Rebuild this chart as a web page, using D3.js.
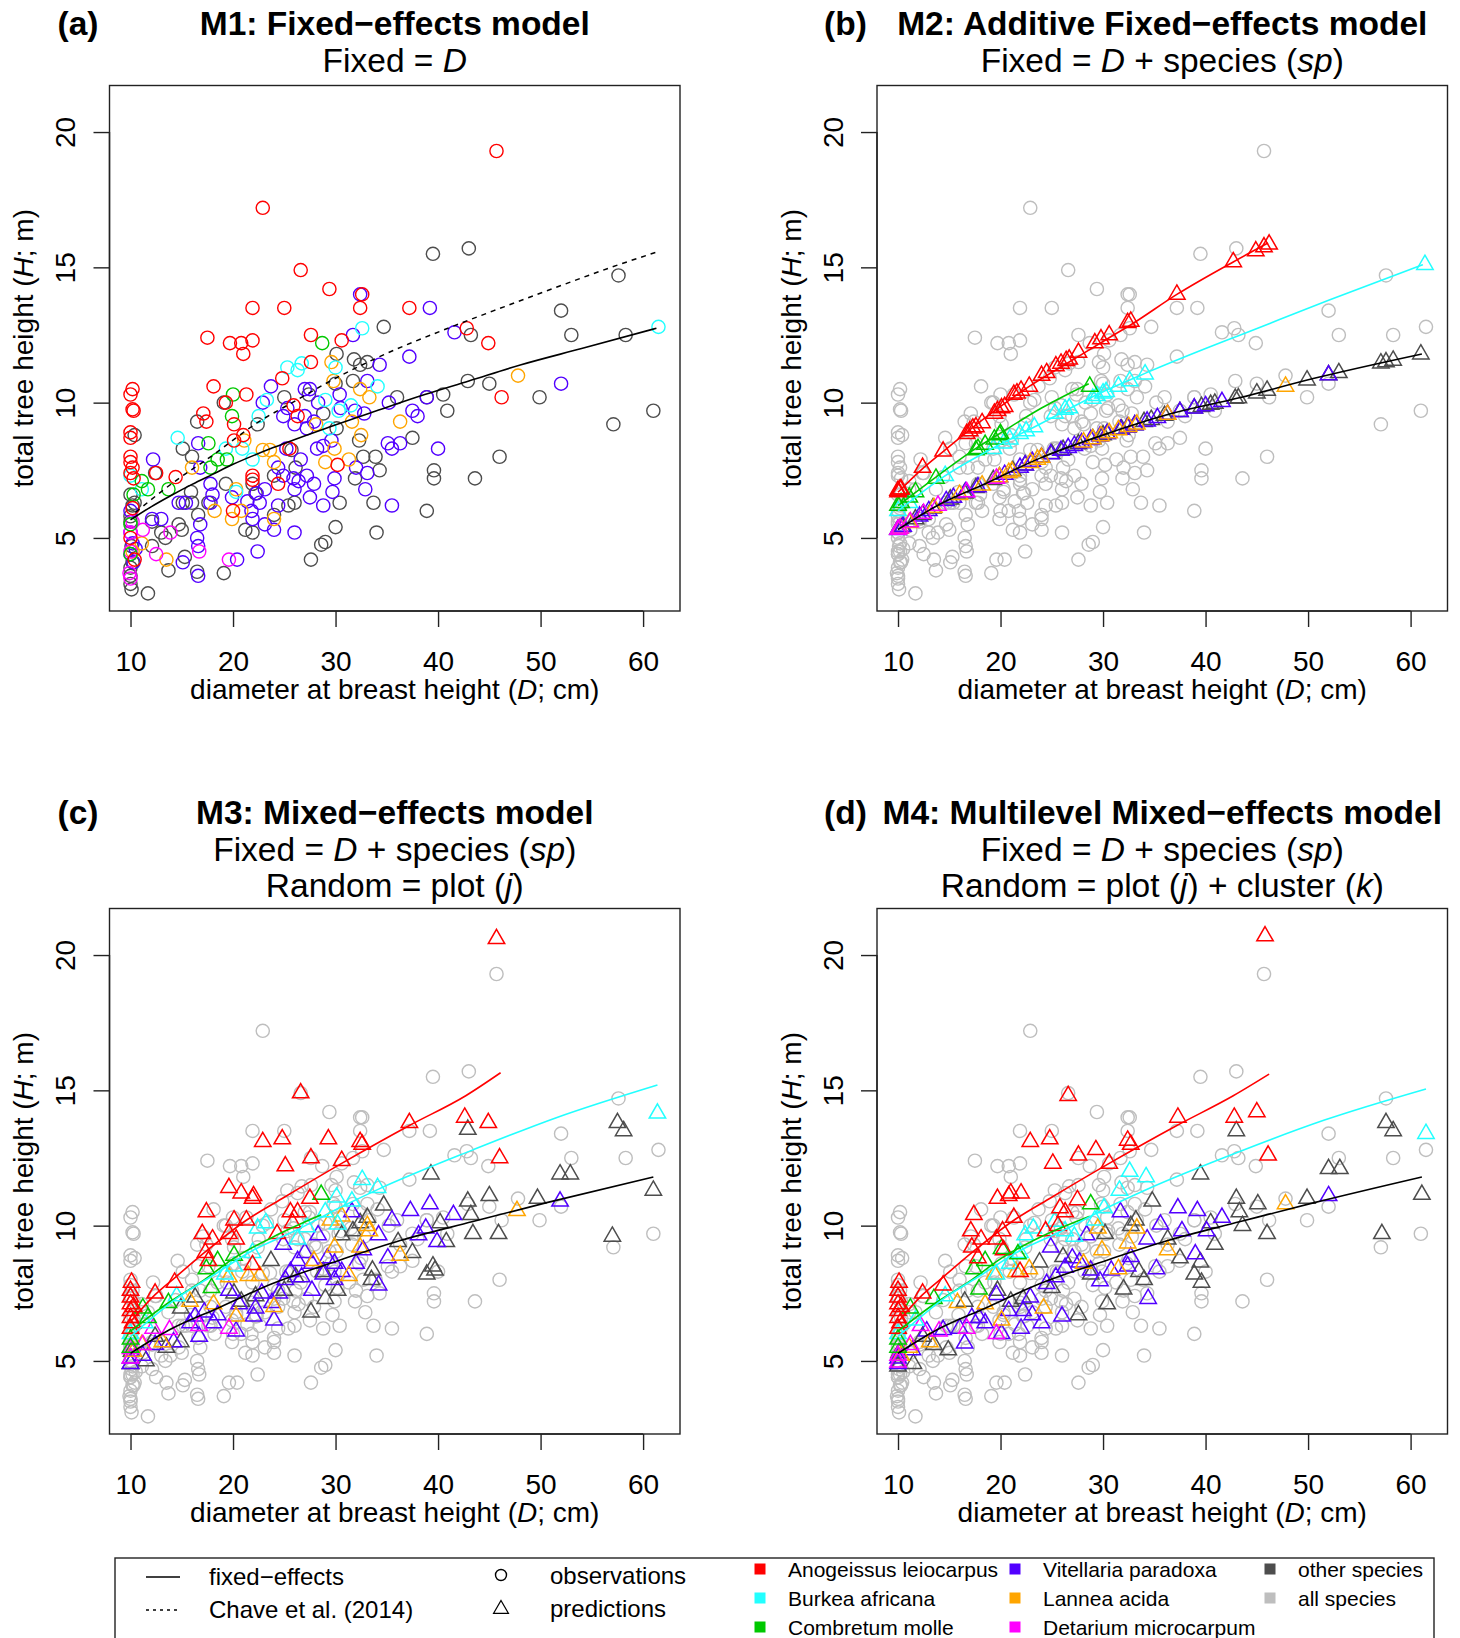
<!DOCTYPE html>
<html>
<head>
<meta charset="utf-8">
<script src="https://cdn.jsdelivr.net/npm/d3@7"></script>
<style>
  body { margin: 0; background: #fff; }
  svg { display: block; }
  text { font-family: "Liberation Sans", Arial, Helvetica, sans-serif; fill: #000; }
</style>
</head>
<body>
<svg id="fig" width="1460" height="1638"></svg>
<script>
// ---------------------------------------------------------------
// Tree height (H, m) vs diameter at breast height (D, cm)
// ---------------------------------------------------------------

const speciesNames = ["Anogeissus leiocarpus", "Burkea africana", "Combretum molle",
                      "Vitellaria paradoxa", "Lannea acida", "Detarium microcarpum",
                      "other species", "all species"];
const xTicks = [10, 20, 30, 40, 50, 60];
const yTicks = [5, 10, 15, 20];

// Observations [D, H] per species
const obsAnogeissus = [[45.7,19.3],[22.9,17.2],[26.6,14.9],[29.4,14.2],[21.9,13.5],[25.0,13.5],[32.4,13.5],[32.6,14.0],[37.2,13.5],[42.8,12.75],[44.9,12.2],[17.5,12.4],[19.7,12.2],[20.8,12.2],[21.9,12.3],[21.0,11.8],[27.6,12.5],[30.6,12.3],[27.6,11.5],[24.8,10.9],[18.1,10.6],[21.3,10.3],[46.2,10.2],[10.2,10.5],[10.0,10.3],[10.2,9.75],[10.3,9.7],[17.1,9.6],[17.4,9.3],[19.3,10.0],[20.1,9.2],[21.0,8.8],[20.1,8.6],[10.0,8.9],[10.0,8.7],[26.3,9.5],[25.9,9.9],[25.5,8.3],[10.0,8.0],[10.0,7.8],[10.2,7.6],[10.0,7.4],[12.5,7.4],[14.4,7.25],[21.9,7.3],[21.9,7.15],[24.4,7.0],[30.2,7.7],[20.0,6.0],[10.4,4.2],[10.2,6.1],[10.0,5.0],[10.3,7.2]];
const obsBurkea = [[61.5,12.8],[32.6,12.75],[25.3,11.3],[26.3,11.2],[26.7,11.45],[30.0,11.3],[34.1,10.6],[14.6,8.7],[22.5,9.5],[23.3,10.1],[29.0,10.1],[30.3,9.7],[19.3,8.3],[20.9,8.3],[21.9,7.9],[20.3,6.7],[29.4,9.05],[11.1,6.8],[10.0,7.3],[31.5,9.9]];
const obsCombretum = [[28.7,12.2],[20.0,10.3],[19.9,9.5],[17.6,8.5],[18.5,7.9],[17.8,7.6],[13.7,6.8],[11.1,7.1],[11.7,6.8],[10.0,5.5],[10.0,4.4],[10.3,6.6],[19.4,7.9]];
const obsVitellaria = [[39.2,13.5],[32.4,14.0],[31.7,12.5],[41.6,12.6],[37.2,11.7],[34.3,11.4],[33.1,10.8],[52.0,10.7],[23.7,10.6],[27.0,10.5],[27.5,10.5],[30.4,10.3],[28.3,10.0],[22.9,10.0],[35.2,10.0],[38.9,10.2],[24.9,9.5],[25.3,9.8],[27.0,9.5],[26.0,9.2],[27.2,9.05],[27.9,9.3],[32.8,9.6],[31.9,9.7],[30.5,9.8],[37.5,9.7],[38.0,9.5],[35.1,8.5],[35.5,8.3],[36.3,8.5],[40.0,8.3],[28.8,8.4],[29.6,8.6],[28.2,8.3],[25.2,8.3],[26.6,7.9],[24.4,7.6],[24.9,7.3],[25.9,7.2],[26.4,7.1],[27.2,7.3],[27.9,7.0],[29.9,7.2],[26.0,6.8],[27.5,6.5],[28.8,6.2],[29.7,6.7],[32.9,6.8],[32.0,7.6],[33.1,7.4],[35.5,6.2],[23.1,6.8],[22.3,6.65],[22.6,6.3],[21.8,6.0],[21.9,5.7],[24.4,6.2],[24.0,5.3],[23.1,5.5],[26.0,5.2],[22.4,4.5],[15.1,4.1],[16.5,5.0],[16.6,3.6],[16.8,5.5],[17.8,7.0],[18.0,6.6],[17.8,6.3],[19.9,6.5],[16.6,8.5],[16.8,7.6],[14.7,6.3],[15.4,6.3],[12.2,7.9],[20.4,4.2],[13.0,5.7],[12.1,5.7],[21.4,6.35],[10.0,6.0],[10.0,5.2],[10.2,4.8],[10.0,4.4],[10.3,4.1],[10.5,4.6],[16.6,4.7]];
const obsLannea = [[47.8,11.0],[36.3,9.3],[29.6,11.5],[29.8,10.8],[32.4,10.5],[33.3,10.2],[31.6,9.3],[32.5,8.8],[28.1,9.2],[31.3,7.9],[29.0,7.8],[29.9,8.3],[22.9,8.25],[23.6,8.25],[21.1,8.6],[16.0,7.6],[24.0,7.8],[18.2,6.0],[19.9,5.7],[20.8,6.0],[24.0,5.7],[20.3,6.8],[13.5,4.2],[11.1,4.8],[10.2,4.5]];
const obsDetarium = [[11.2,5.3],[12.5,4.4],[13.9,5.2],[16.7,4.5],[19.6,4.2],[10.0,3.5],[10.0,4.5],[10.0,5.2],[10.2,5.6],[9.9,3.7]];
const obsOther = [[39.5,15.5],[43.0,15.7],[57.6,14.7],[52.0,13.4],[53.0,12.5],[58.3,12.5],[34.7,12.8],[43.2,12.5],[30.1,11.8],[31.8,11.6],[33.1,11.5],[32.4,11.4],[31.7,10.8],[30.0,10.7],[42.9,10.8],[45.0,10.7],[40.5,10.3],[38.9,10.2],[36.0,10.2],[49.9,10.2],[61.0,9.7],[57.1,9.2],[40.9,9.7],[37.5,8.7],[25.0,10.2],[27.4,10.3],[28.8,9.6],[30.1,9.05],[22.4,9.2],[19.1,10.0],[16.5,9.3],[15.1,8.3],[16.0,8.0],[12.4,7.4],[10.4,8.8],[32.3,8.6],[32.7,8.0],[33.9,8.0],[34.3,7.5],[31.9,7.2],[39.6,7.5],[39.6,7.2],[43.6,7.2],[46.0,8.0],[38.9,6.0],[34.0,5.2],[30.0,5.4],[30.4,6.3],[33.7,6.3],[28.6,4.75],[29.0,4.85],[27.6,4.2],[26.1,7.6],[25.7,8.25],[24.0,7.3],[19.3,7.0],[21.9,7.0],[22.2,6.65],[25.4,6.2],[26.0,6.3],[21.2,5.3],[21.9,5.2],[24.0,5.85],[19.1,3.7],[16.5,3.75],[15.3,4.3],[13.7,3.8],[14.7,5.5],[15.0,5.3],[16.6,5.85],[13.0,5.2],[13.4,5.0],[16.0,6.3],[15.9,6.7],[15.1,6.3],[17.6,6.3],[12.1,4.7],[11.7,2.95],[10.0,3.9],[10.0,3.6],[10.0,3.3],[10.1,3.1],[10.0,6.6],[10.2,6.2],[10.0,5.8],[10.4,6.3],[10.0,5.6],[10.1,4.7],[10.2,4.1],[12.1,5.6]];

// M2 predictions [D, H]
const m2Anogeissus = [[10,6.7],[10,6.75],[10.2,6.8],[10.3,6.8],[12.4,7.6],[14.4,8.2],[16.7,8.85],[17.0,8.95],[17.3,9.05],[17.6,9.1],[18.2,9.25],[19.4,9.6],[19.7,9.7],[20.1,9.8],[20.4,9.85],[21.3,10.3],[21.6,10.35],[22.0,10.45],[22.8,10.6],[24.0,11.0],[24.5,11.1],[25.4,11.35],[25.9,11.45],[26.4,11.55],[26.7,11.6],[27.6,11.85],[29.2,12.2],[29.8,12.35],[30.6,12.5],[32.4,12.95],[32.7,13.0],[37.2,14.0],[42.7,15.2],[44.9,15.6],[45.7,15.75],[46.2,15.85]];
const m2Burkea = [[10,6.0],[11.1,6.3],[14.6,7.3],[19.3,8.3],[20.3,8.5],[20.9,8.65],[21.9,8.85],[22.5,8.95],[23.3,9.1],[25.3,9.6],[26.3,9.75],[26.7,9.8],[29.0,10.15],[29.4,10.25],[30.0,10.35],[30.3,10.4],[31.5,10.6],[32.6,10.8],[34.1,11.05],[61.4,15.1]];
const m2Combretum = [[10,6.2],[10.3,6.3],[11.1,6.5],[11.7,6.7],[13.7,7.2],[17.6,8.25],[17.8,8.3],[18.5,8.45],[19.4,8.65],[19.9,8.8],[20.0,8.85],[28.7,10.6]];
const m2Vitellaria = [[10,5.3],[10.5,5.42],[12.1,5.8],[13.0,6.0],[14.7,6.37],[15.4,6.49],[16.6,6.7],[17.8,6.88],[19.9,7.25],[20.4,7.34],[21.9,7.6],[22.4,7.69],[23.1,7.82],[24.0,7.97],[24.9,8.1],[25.9,8.23],[26.6,8.33],[27.2,8.41],[27.9,8.51],[28.8,8.63],[29.7,8.76],[30.4,8.85],[31.7,9.01],[32.4,9.09],[33.1,9.17],[34.3,9.31],[35.3,9.44],[36.3,9.56],[37.5,9.66],[38.9,9.79],[40.0,9.88],[41.6,10.03],[52.0,11.02]];
const m2Lannea = [[10.2,5.35],[11.1,5.56],[13.5,6.12],[16.0,6.6],[18.2,6.95],[19.9,7.25],[20.8,7.41],[21.1,7.46],[22.9,7.78],[23.6,7.9],[24.0,7.97],[28.1,8.54],[29.0,8.66],[29.8,8.77],[30.6,8.88],[31.5,8.99],[32.5,9.11],[33.3,9.2],[36.3,9.56],[47.8,10.6]];
const m2Detarium = [[10,5.31],[10.2,5.36],[11.2,5.59],[12.5,5.9],[13.9,6.2],[16.7,6.7],[19.6,7.2]];
const m2Other = [[61.0,11.79],[58.3,11.56],[57.6,11.5],[57.1,11.46],[53.0,11.1],[52.0,11.02],[49.9,10.83],[46.0,10.45],[45.0,10.35],[43.2,10.17],[42.9,10.15],[40.9,9.97],[40.5,9.93],[39.6,9.85],[38.9,9.79],[37.5,9.66],[36.0,9.52],[34.7,9.37],[34.0,9.29],[33.1,9.17],[32.4,9.09],[31.8,9.02],[30.4,8.85],[30.0,8.8],[29.0,8.66],[27.6,8.47],[26.1,8.26],[25.0,8.11],[24.0,7.97],[22.4,7.69],[21.2,7.48],[19.3,7.15],[17.6,6.85],[16.5,6.65],[15.1,6.43],[13.4,6.1],[12.4,5.86],[11.7,5.7],[10.4,5.4],[10.0,5.31]];

// M3 predictions [D, H]
const m3Anogeissus = [[45.7,20.6],[26.6,14.9],[22.9,13.1],[24.8,13.2],[29.3,13.2],[32.4,13.1],[32.6,13.0],[27.6,12.5],[25.1,12.2],[30.6,12.4],[37.2,13.8],[42.6,14.0],[44.9,13.8],[46.0,12.5],[19.6,11.4],[20.8,11.2],[22.0,11.1],[21.9,11.0],[17.4,10.5],[17.0,9.7],[18.0,9.5],[19.6,9.7],[20.1,10.2],[21.3,10.2],[20.3,9.5],[17.3,9.0],[17.6,8.7],[21.9,8.55],[25.6,10.5],[26.3,10.5],[27.5,11.0],[24.3,9.7],[25.8,10.1],[14.3,7.9],[12.4,7.5],[10.1,7.9],[10,7.6],[10,7.35],[10,7.1],[10,6.85],[10,6.6],[10,6.2],[10.3,7.0],[10.2,6.4]];
const m3Burkea = [[61.4,14.15],[32.6,11.7],[34.1,11.4],[30.1,11.05],[31.6,10.9],[22.4,9.9],[23.2,10.1],[26.3,9.5],[27.2,9.95],[29.0,10.5],[30.2,10.05],[21.9,9.0],[20.1,8.5],[19.2,8.2],[14.5,7.4],[11.4,6.4],[10,6.0]];
const m3Combretum = [[28.6,11.15],[20.1,8.9],[18.5,8.7],[17.4,8.4],[17.9,7.7],[13.7,7.15],[11.2,6.95],[11.7,6.6],[10,5.8],[10,5.5]];
const m3Vitellaria = [[51.9,10.9],[41.5,10.4],[39.2,10.8],[37.3,10.55],[35.5,10.2],[31.6,10.5],[28.3,9.65],[24.9,9.3],[38.8,9.9],[38.1,9.65],[39.9,9.4],[34.2,9.65],[35.1,8.8],[34.2,7.8],[32.7,9.1],[32.0,8.6],[30.6,8.3],[29.9,8.0],[28.8,8.2],[27.7,8.6],[27.0,9.0],[26.3,8.7],[25.6,8.3],[25.1,8.0],[24.5,7.5],[24.0,6.5],[23.8,7.15],[22.8,7.5],[22.0,6.65],[22.2,6.95],[20.6,7.1],[20.3,6.1],[19.6,7.6],[18.5,6.7],[18.1,6.4],[17.2,6.8],[16.7,5.9],[16.3,6.65],[15.8,6.4],[14.2,5.7],[12.4,5.6],[11.2,5.2],[27.7,7.6],[26.7,8.1],[29.9,8.6],[29.2,8.8],[10,5.1],[10,4.9]];
const m3Lannea = [[47.7,10.55],[36.3,8.9],[33.3,9.8],[33.1,10.0],[32.4,9.2],[30.6,10.35],[29.5,10.2],[29.9,9.2],[31.3,8.15],[27.9,8.7],[22.6,8.15],[21.5,8.15],[19.6,8.1],[20.3,6.65],[24.0,7.0],[15.8,7.2],[18.1,7.1],[13.1,5.7],[10.3,5.35],[11.1,5.6]];
const m3Detarium = [[19.6,6.2],[13.8,6.15],[12.2,6.2],[10,5.45],[10,5.1],[11.2,5.6],[16.7,6.3]];
const m3Other = [[57.5,13.8],[58.1,13.5],[42.9,13.55],[51.9,11.9],[52.9,11.9],[61.0,11.3],[39.3,11.9],[45.0,11.1],[42.9,10.9],[49.7,11.0],[34.7,10.75],[43.2,10.4],[43.4,9.7],[45.9,9.7],[57.0,9.6],[40.2,10.1],[40.8,9.4],[36.1,9.4],[37.5,9.0],[39.5,8.5],[38.9,8.2],[39.7,8.35],[33.1,10.3],[32.4,10.1],[31.7,9.8],[30.6,9.65],[33.5,8.0],[33.6,8.35],[30.2,7.6],[29.0,7.3],[27.6,6.8],[23.7,8.7],[20.8,7.2],[20.1,7.5],[16.3,7.35],[14.9,6.95],[13.5,5.5],[14.9,5.7],[11.5,5.0],[10.1,5.35],[10,4.9],[28.8,8.3],[25.0,7.6],[22.2,7.4],[26.1,8.1],[12.4,5.9]];

// M4 predictions [D, H]
const m4Anogeissus = [[45.8,20.7],[26.6,14.8],[22.9,13.1],[24.8,13.2],[29.3,12.8],[32.4,13.15],[32.7,13.0],[27.6,12.6],[25.1,12.3],[30.6,12.3],[37.3,14.0],[42.8,14.0],[45.0,14.2],[46.1,12.6],[19.7,11.0],[21.0,11.2],[22.0,11.2],[20.8,11.1],[17.4,10.4],[21.3,10.3],[17.1,9.8],[18.1,9.5],[19.6,9.5],[20.2,9.8],[20.3,9.1],[17.2,9.2],[17.8,8.8],[21.9,8.3],[25.8,10.65],[26.3,10.5],[27.5,10.95],[24.4,9.8],[25.6,10.0],[14.4,7.8],[12.4,7.5],[10.1,7.9],[10,7.6],[10,7.35],[10,7.1],[10,6.85],[10,6.6],[10,6.2],[10.3,7.0],[10.2,6.4]];
const m4Burkea = [[61.5,13.4],[32.6,12.0],[34.2,11.8],[31.6,11.3],[30.1,10.65],[22.4,9.65],[25.3,10.15],[26.3,9.8],[29.2,10.2],[19.6,8.2],[21.9,9.0],[14.6,7.4],[11.7,6.5],[10,6.0],[23.2,9.9],[27.2,9.6],[20.9,8.6]];
const m4Combretum = [[28.8,10.8],[20.1,9.15],[21.7,8.95],[18.5,8.7],[17.4,8.4],[17.9,7.65],[13.5,7.3],[11.2,6.95],[10,5.8],[10,5.5]];
const m4Vitellaria = [[52.0,11.1],[41.6,10.3],[39.2,10.55],[37.3,10.65],[35.6,10.05],[31.7,10.5],[28.4,9.65],[24.9,9.2],[39.0,8.95],[37.7,9.8],[40.1,9.8],[34.3,9.5],[35.2,8.4],[34.4,7.3],[32.7,8.85],[32.4,8.5],[30.8,8.35],[29.7,7.95],[28.8,8.35],[27.7,8.65],[27.0,8.8],[26.3,8.45],[26.0,6.65],[25.4,8.1],[24.5,7.85],[24.0,6.4],[23.1,6.7],[22.9,7.35],[22.0,6.2],[22.2,6.85],[20.8,6.85],[20.1,6.0],[19.6,7.45],[18.5,6.4],[17.9,6.6],[17.2,6.6],[16.5,5.65],[16.0,6.2],[14.4,6.15],[12.8,6.1],[11.4,5.4],[10,5.1],[10,4.9]];
const m4Lannea = [[47.8,10.8],[36.3,9.1],[33.3,9.9],[32.4,9.35],[29.5,9.9],[29.9,9.1],[31.5,8.4],[28.1,8.6],[22.8,8.4],[21.5,8.3],[19.4,8.2],[20.1,6.5],[24.2,6.95],[15.8,7.15],[18.5,7.1],[13.1,5.7],[10.3,5.2],[11.1,5.5]];
const m4Detarium = [[19.6,6.0],[14.0,6.1],[12.2,6.3],[10,5.2],[10,4.95],[11.2,5.6],[16.7,6.2]];
const m4Other = [[57.6,13.8],[58.3,13.5],[43.0,13.5],[52.0,12.1],[53.1,12.1],[61.1,11.15],[39.5,11.9],[45.1,10.8],[43.0,11.0],[49.9,11.0],[34.8,10.9],[43.3,10.5],[43.6,10.0],[46.0,9.7],[57.2,9.7],[40.5,10.1],[40.9,9.3],[36.3,9.5],[37.5,8.8],[39.5,8.65],[38.9,8.2],[39.6,7.9],[33.2,10.2],[32.7,10.0],[30.2,9.7],[34.0,8.0],[33.5,8.3],[32.0,7.65],[30.4,7.1],[27.6,6.7],[23.8,8.65],[26.1,8.85],[21.0,7.2],[19.7,7.6],[16.5,7.2],[14.9,5.4],[13.5,5.6],[11.5,4.9],[10,4.8],[10.1,5.3],[28.8,8.2],[25.0,7.7],[22.2,7.3],[12.4,5.9]];

// Fitted curves [D, H]
const fitM1 = [[10,5.67],[12,6.15],[14,6.58],[16,6.98],[18,7.35],[20,7.72],[24,8.35],[29.4,9.1],[34,9.7],[38.7,10.3],[43,10.8],[48.1,11.4],[54,12.0],[61.3,12.75]];
const chave2014 = [[10.5,5.95],[14,7.0],[18,8.05],[22.3,9.24],[26,10.05],[29.4,10.78],[34.3,11.7],[41.3,12.8],[46.5,13.55],[51.8,14.3],[56.5,14.95],[61.6,15.6]];
const fitM2Anogeissus = [[10,6.69],[12.4,7.56],[14.4,8.19],[17.2,9.06],[19.6,9.75],[22.8,10.6],[26.7,11.5],[30.6,12.4],[32.6,12.85],[37.2,14.0],[42.7,15.2],[46.1,15.9]];
const fitM2Burkea = [[10,6.0],[14.4,7.25],[19.2,8.31],[23.1,9.06],[30.2,10.44],[34.2,11.1],[40,12.0],[43.4,12.5],[52,13.78],[61.2,15.1]];
const fitM2Combretum = [[10,6.19],[13.7,7.25],[17.6,8.31],[20.1,8.9],[24,9.8],[28.6,10.7]];
const fitM2Other = [[10,5.31],[13.8,6.19],[18.5,7.0],[23.8,7.94],[30.6,8.88],[36.3,9.56],[43.4,10.19],[50.6,10.9],[61.1,11.8]];
const fitM3Anogeissus = [[10,6.45],[12.4,7.45],[14.4,8.1],[17.2,9.0],[21.3,10.2],[25,11.05],[30.6,12.3],[37.2,13.7],[42.7,14.8],[46.1,15.65]];
const fitM3Burkea = [[10,5.9],[14.6,7.34],[18,8.15],[22,9.1],[26,9.8],[30.6,10.7],[34.2,11.35],[43.4,12.8],[51.6,14.0],[61.4,15.2]];
const fitM3Combretum = [[10,6.1],[13.7,7.15],[17,7.95],[20.1,8.8],[24,9.6],[28.6,10.4]];
const fitM3Other = [[10,5.28],[13.8,6.15],[18.5,6.95],[23.8,7.85],[30.6,8.75],[36.3,9.45],[43.4,10.15],[50.6,10.85],[61,11.8]];
const fitM4Anogeissus = [[10,6.45],[12.4,7.45],[14.4,8.1],[17.2,9.0],[21.3,10.2],[25,11.05],[30.6,12.3],[37.2,13.7],[42.7,14.8],[46.2,15.6]];
const fitM4Burkea = [[10,5.9],[14.6,7.34],[18,8.15],[22,9.1],[26,9.8],[30.6,10.7],[34.2,11.33],[43.4,12.75],[51.6,13.9],[61.5,15.05]];
const fitM4Combretum = [[10,6.1],[13.7,7.15],[17,7.95],[20.1,8.8],[24,9.6],[28.7,10.35]];
const fitM4Other = [[10,5.28],[13.8,6.15],[18.5,6.95],[23.8,7.85],[30.6,8.75],[36.3,9.45],[43.4,10.15],[50.6,10.85],[61.1,11.8]];

// ---------------------------------------------------------------
// Tables built from the arrays above
// ---------------------------------------------------------------
const drawOrder = ["OT", "VP", "LA", "DM", "BA", "CM", "AL"];
const observations = { AL: obsAnogeissus, BA: obsBurkea, CM: obsCombretum, VP: obsVitellaria,
                       LA: obsLannea, DM: obsDetarium, OT: obsOther };
const predictions = {
  M2: { AL: m2Anogeissus, BA: m2Burkea, CM: m2Combretum, VP: m2Vitellaria, LA: m2Lannea, DM: m2Detarium, OT: m2Other },
  M3: { AL: m3Anogeissus, BA: m3Burkea, CM: m3Combretum, VP: m3Vitellaria, LA: m3Lannea, DM: m3Detarium, OT: m3Other },
  M4: { AL: m4Anogeissus, BA: m4Burkea, CM: m4Combretum, VP: m4Vitellaria, LA: m4Lannea, DM: m4Detarium, OT: m4Other }
};
const fits = {
  M2: [["OT", fitM2Other], ["CM", fitM2Combretum], ["BA", fitM2Burkea], ["AL", fitM2Anogeissus]],
  M3: [["OT", fitM3Other], ["CM", fitM3Combretum], ["BA", fitM3Burkea], ["AL", fitM3Anogeissus]],
  M4: [["OT", fitM4Other], ["CM", fitM4Combretum], ["BA", fitM4Burkea], ["AL", fitM4Anogeissus]]
};

// Styling
const colors = { AL: "#FF0000", BA: "#22FFFF", CM: "#00C800", VP: "#5200FF", LA: "#FFA500",
                 DM: "#FF00FF", OT: "#4D4D4D", ALL: "#BEBEBE" };
const lineColors = { AL: "#FF0000", BA: "#22FFFF", CM: "#00C800", OT: "#000000" };
const FONT = '"Liberation Sans", Arial, Helvetica, sans-serif';

// ---------------------------------------------------------------
// Layout
// ---------------------------------------------------------------
const svg = d3.select("#fig");
const box = { left: 109.5, right: 680, top: 85.5, bottom: 611 };
const x = d3.scaleLinear().domain([7.95, 63.6]).range([box.left, box.right]);
const y = d3.scaleLinear().domain([2.30, 21.72]).range([box.bottom, box.top]);
const cx = (box.left + box.right) / 2;

const R_CIRCLE = 6.6;       // observation circle radius
const R_TRI = 6.1;          // triangle size parameter
const triPath = (() => {
  const hw = 1.3467 * R_TRI, up = 1.5551 * R_TRI, dn = up / 2;
  return `M0,${-up}L${hw},${dn}L${-hw},${dn}Z`;
})();

const lineGen = d3.line().x(d => x(d[0])).y(d => y(d[1])).curve(d3.curveMonotoneX);

function richText(parent, tx, ty, parts, size, weight, anchor, rotate) {
  const t = parent.append("text")
    .attr("font-size", size)
    .attr("font-weight", weight || "normal")
    .attr("text-anchor", anchor || "middle")
    .attr("transform", `translate(${tx},${ty})` + (rotate ? ` rotate(${rotate})` : ""));
  parts.forEach(p => {
    const s = t.append("tspan").text(p[0]);
    if (p[1]) s.attr("font-style", "italic");
  });
  return t;
}

function drawAxes(g) {
  const xa = g.append("g").attr("transform", `translate(0,${box.bottom})`)
    .call(d3.axisBottom(x).tickValues(xTicks).tickSize(16).tickSizeOuter(0).tickFormat(d3.format("d")));
  xa.select(".domain").attr("d", `M${x(xTicks[0])},0H${x(xTicks[xTicks.length - 1])}`);
  xa.selectAll("line").attr("stroke", "#222").attr("stroke-width", 1.4);
  xa.select(".domain").attr("stroke", "#222").attr("stroke-width", 1.4);
  xa.selectAll("text").attr("y", 60).attr("dy", 0)
    .attr("font-size", 28).attr("font-family", FONT).attr("fill", "#000");

  const ya = g.append("g").attr("transform", `translate(${box.left},0)`)
    .call(d3.axisLeft(y).tickValues(yTicks).tickSize(16).tickSizeOuter(0).tickFormat(d3.format("d")));
  ya.select(".domain").attr("d", `M0,${y(yTicks[0])}V${y(yTicks[yTicks.length - 1])}`)
    .attr("stroke", "#222").attr("stroke-width", 1.4);
  ya.selectAll("line").attr("stroke", "#222").attr("stroke-width", 1.4);
  ya.selectAll("text").attr("x", 0).attr("dy", 0)
    .attr("transform", "translate(-34.5,0) rotate(-90)")
    .attr("text-anchor", "middle")
    .attr("font-size", 28).attr("font-family", FONT).attr("fill", "#000");

  g.append("rect").attr("x", box.left).attr("y", box.top)
    .attr("width", box.right - box.left).attr("height", box.bottom - box.top)
    .attr("fill", "none").attr("stroke", "#222").attr("stroke-width", 1.4);

  richText(g, cx, 699, [["diameter at breast height (", false], ["D", true], ["; cm)", false]], 28);
  richText(g, 33, (box.top + box.bottom) / 2,
    [["total tree height (", false], ["H", true], ["; m)", false]], 28, "normal", "middle", -90);
}

function drawTitles(g, tag, lines, top) {
  richText(g, 78, top, [[tag, false]], 33.5, "bold");
  lines.forEach((parts, i) => {
    richText(g, cx, top + i * 36.5, parts, 33.5, i === 0 ? "bold" : "normal");
  });
}

function drawObservations(g, coloured) {
  const layer = g.append("g").attr("fill", "none").attr("stroke-width", 1.4);
  drawOrder.forEach(k => {
    layer.selectAll(null).data(observations[k]).enter().append("circle")
      .attr("cx", d => x(d[0])).attr("cy", d => y(d[1])).attr("r", R_CIRCLE)
      .attr("stroke", coloured ? colors[k] : colors.ALL);
  });
}

function drawPredictions(g, model) {
  const layer = g.append("g").attr("fill", "none").attr("stroke-width", 1.5);
  drawOrder.forEach(k => {
    layer.selectAll(null).data(predictions[model][k]).enter().append("path")
      .attr("d", triPath)
      .attr("transform", d => `translate(${x(d[0])},${y(d[1])})`)
      .attr("stroke", colors[k]);
  });
}

function drawFits(g, model) {
  fits[model].forEach(([k, pts]) => {
    g.append("path").datum(pts).attr("d", lineGen)
      .attr("fill", "none").attr("stroke", lineColors[k]).attr("stroke-width", 1.6);
  });
}

// (a) M1
const gA = svg.append("g");
drawTitles(gA, "(a)", [[["M1: Fixed\u2212effects model", false]], [["Fixed = ", false], ["D", true]]], 35);
drawObservations(gA, true);
gA.append("path").datum(fitM1).attr("d", lineGen).attr("fill", "none")
  .attr("stroke", "#000").attr("stroke-width", 1.6);
gA.append("path").datum(chave2014).attr("d", lineGen).attr("fill", "none")
  .attr("stroke", "#000").attr("stroke-width", 1.5).attr("stroke-dasharray", "5,5");
drawAxes(gA);

// (b) M2
const gB = svg.append("g").attr("transform", "translate(767.5,0)");
drawTitles(gB, "(b)", [[["M2: Additive Fixed\u2212effects model", false]],
  [["Fixed = ", false], ["D", true], [" + species (", false], ["sp", true], [")", false]]], 35);
drawObservations(gB, false);
drawPredictions(gB, "M2");
drawFits(gB, "M2");
drawAxes(gB);

// (c) M3
const gC = svg.append("g").attr("transform", "translate(0,823)");
drawTitles(gC, "(c)", [[["M3: Mixed\u2212effects model", false]],
  [["Fixed = ", false], ["D", true], [" + species (", false], ["sp", true], [")", false]],
  [["Random = plot (", false], ["j", true], [")", false]]], 1);
drawObservations(gC, false);
drawPredictions(gC, "M3");
drawFits(gC, "M3");
drawAxes(gC);

// (d) M4
const gD = svg.append("g").attr("transform", "translate(767.5,823)");
drawTitles(gD, "(d)", [[["M4: Multilevel Mixed\u2212effects model", false]],
  [["Fixed = ", false], ["D", true], [" + species (", false], ["sp", true], [")", false]],
  [["Random = plot (", false], ["j", true], [") + cluster (", false], ["k", true], [")", false]]], 1);
drawObservations(gD, false);
drawPredictions(gD, "M4");
drawFits(gD, "M4");
drawAxes(gD);

// ---------------------------------------------------------------
// Legend
// ---------------------------------------------------------------
const lg = svg.append("g");
lg.append("rect").attr("x", 115).attr("y", 1558).attr("width", 1319).attr("height", 120)
  .attr("fill", "none").attr("stroke", "#222").attr("stroke-width", 1.4);

lg.append("line").attr("x1", 146).attr("x2", 180).attr("y1", 1577).attr("y2", 1577)
  .attr("stroke", "#000").attr("stroke-width", 1.5);
lg.append("line").attr("x1", 146).attr("x2", 180).attr("y1", 1610).attr("y2", 1610)
  .attr("stroke", "#000").attr("stroke-width", 1.5).attr("stroke-dasharray", "3,4");
richText(lg, 209, 1585, [["fixed\u2212effects", false]], 24, "normal", "start");
richText(lg, 209, 1618, [["Chave et al. (2014)", false]], 24, "normal", "start");

lg.append("circle").attr("cx", 501).attr("cy", 1575).attr("r", 5.5)
  .attr("fill", "none").attr("stroke", "#000").attr("stroke-width", 1.4);
lg.append("path").attr("d", triPath).attr("transform", "translate(501,1609) scale(0.9)")
  .attr("fill", "none").attr("stroke", "#000").attr("stroke-width", 1.4);
richText(lg, 550, 1584, [["observations", false]], 24, "normal", "start");
richText(lg, 550, 1617, [["predictions", false]], 24, "normal", "start");

const legendKeys = ["AL", "BA", "CM", "VP", "LA", "DM", "OT", "ALL"];
const colX = [760, 1015, 1270];
const rowY = [1569, 1598, 1627];
legendKeys.forEach((k, i) => {
  const col = Math.floor(i / 3), row = i % 3;
  lg.append("rect").attr("x", colX[col] - 5.5).attr("y", rowY[row] - 5.5)
    .attr("width", 11).attr("height", 11).attr("fill", colors[k]);
  richText(lg, colX[col] + 28, rowY[row] + 7.5, [[speciesNames[i], false]], 21, "normal", "start");
});
</script>
</body>
</html>
